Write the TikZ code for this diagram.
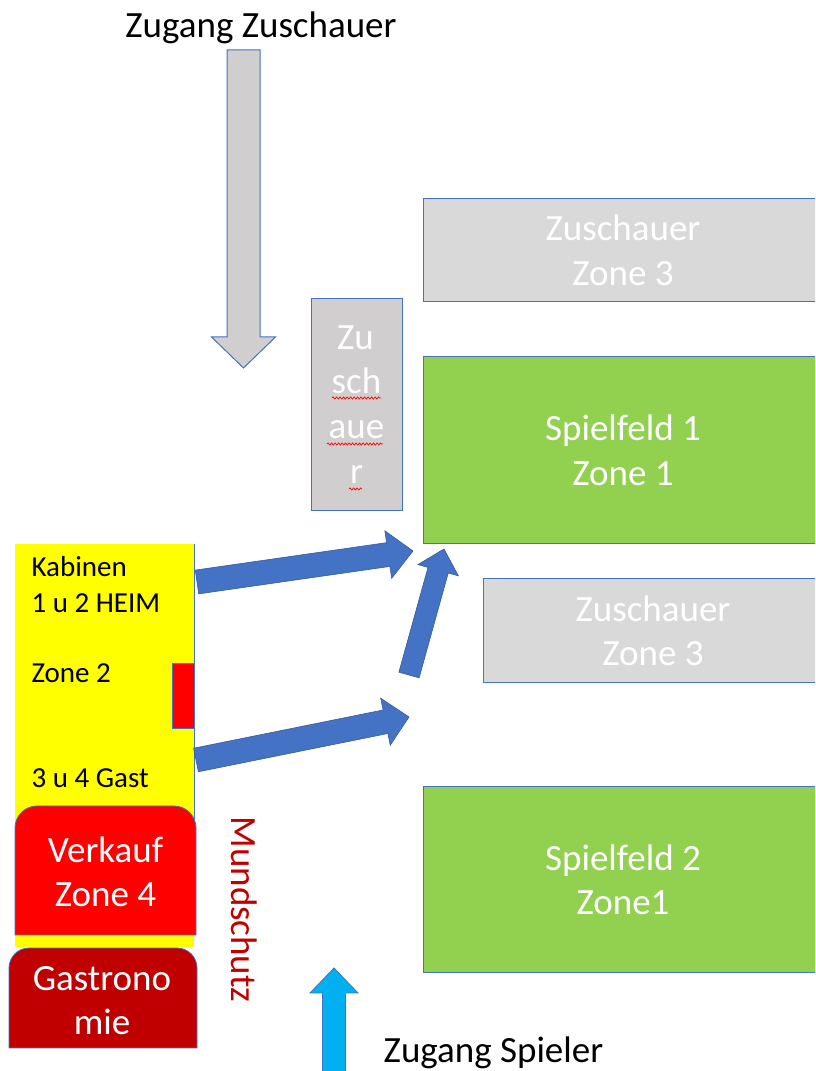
\documentclass[tikz,border=0pt]{standalone}
\usepackage{fontspec}
\setmainfont{Carlito}
\usetikzlibrary{calc,decorations.pathmorphing}
\definecolor{bord}{HTML}{4472C4}
\definecolor{grayA}{HTML}{D9D9D9}
\definecolor{grayB}{HTML}{D0CECE}
\definecolor{grn}{HTML}{92D050}
\definecolor{darkred}{HTML}{C00000}
\definecolor{arrblue}{HTML}{4472C4}
\definecolor{cyanarr}{HTML}{00B0F0}
\definecolor{yel}{HTML}{FFFF00}
\definecolor{rd}{HTML}{FF0000}
\newcommand\blockarrow[6]{%
  \coordinate (h-#2) at ($(#3)!#6pt!(#2)$);
  \path[#1] ($(#2)!#4pt!-90:(#3)$) -- ($(h-#2)!#4pt!-90:(#3)$) -- ($(h-#2)!#5pt!-90:(#3)$) -- (#3)
    -- ($(h-#2)!#5pt!90:(#3)$) -- ($(h-#2)!#4pt!90:(#3)$) -- ($(#2)!#4pt!90:(#3)$) -- cycle;}
\tikzset{
  big/.style={font=\fontsize{37}{44.5}\selectfont},
  small/.style={font=\fontsize{29}{35}\selectfont},
  zone/.style={draw=bord, line width=1pt, rectangle, inner sep=0pt, align=center, big, text=white},
  barr/.style={fill=arrblue, draw=bord!80!black, line width=0.6pt},
  garr/.style={fill=grayB, draw=bord, line width=1pt},
  carr/.style={fill=cyanarr, draw=bord, line width=0.8pt},
  wavy/.style={draw=rd, line width=0.7pt, decorate, decoration={snake, amplitude=1.1pt, segment length=3.5pt}}
}
\begin{document}
\begin{tikzpicture}[x=1pt,y=1pt]
\useasboundingbox (0,0) rectangle (815,1071);
\clip (0,0) rectangle (815,1071);
\fill[white] (0,0) rectangle (815,1071);

% field boxes
\node[zone, fill=grayA, minimum width=400, minimum height=103] (zusch1) at (623,820.5) {Zuschauer\\Zone 3};
\node[zone, fill=grn, minimum width=400, minimum height=187] (feld1) at (623,620.5) {Spielfeld 1\\Zone 1};
\node[zone, fill=grayA, minimum width=340, minimum height=104] (zusch2) at (653,440) {Zuschauer\\Zone 3};
\node[zone, fill=grn, minimum width=400, minimum height=186] (feld2) at (623,191) {Spielfeld 2\\Zone1};

% vertical Zuschauer box
\node[zone, fill=grayB, minimum width=91, minimum height=212] (zuschv) at (356.5,666) {};
\node[big, text=white, anchor=base] (zv1) at (355.5,721) {Zu};
\node[big, text=white, anchor=base] (zv2) at (356.5,677) {sch};
\node[big, text=white, anchor=base] (zv3) at (356.5,632) {aue};
\node[big, text=white, anchor=base] (zv4) at (356.5,587) {r};
\draw[wavy] (332,673) -- (381,673);
\draw[wavy] (327,627) -- (383,627);
\draw[wavy] (349,582) -- (362,582);

% yellow cabin block
\fill[yel] (15,124) rectangle (194,527);
\draw[bord, line width=0.8pt] (194,527) -- (194,136);
\node[draw=bord, line width=0.8pt, fill=rd, minimum width=22, minimum height=65, inner sep=0pt] (door) at (183,375.5) {};
\node[small, anchor=base west] (kab1) at (28,494) {Kabinen};
\node[small, anchor=base west] (kab2) at (28,458) {1 u 2 HEIM};
\node[small, anchor=base west] (kab3) at (28,388) {Zone 2};
\node[small, anchor=base west] (kab4) at (28,283) {3 u 4 Gast};

% Verkauf
\draw[bord, line width=0.8pt, fill=rd] (15,136) -- (15,243) arc[start angle=180, end angle=90, radius=22] -- (174,265) arc[start angle=90, end angle=0, radius=22] -- (196,136) -- cycle;
\node[big, text=white, align=center] (verk) at (105.5,199) {Verkauf\\Zone 4};

% Gastronomie
\draw[bord, line width=0.8pt, fill=darkred] (9,23) -- (9,103) arc[start angle=180, end angle=90, radius=20] -- (177,123) arc[start angle=90, end angle=0, radius=20] -- (197,23) -- cycle;
\node[big, text=white, align=center] (gastro) at (102,70.5) {Gastrono\\mie};

% Mundschutz
\node[big, text=darkred, rotate=-90] (mund) at (244,161.5) {Mundschutz};

% captions
\node[big, anchor=base] (zugz) at (261,1033) {Zugang Zuschauer};
\node[big, anchor=base] (zugs) at (493.5,8.5) {Zugang Spieler};

% arrows
\coordinate (ga) at (243.5,1021);
\coordinate (gb) at (243.5,703);
\blockarrow{garr}{ga}{gb}{16.5}{32}{31}

\coordinate (b1a) at (197,489);
\coordinate (b1b) at (413,520);
\blockarrow{barr}{b1a}{b1b}{12}{24}{25}

\coordinate (b2a) at (196,311);
\coordinate (b2b) at (409,354);
\blockarrow{barr}{b2a}{b2b}{12}{24}{24}

\coordinate (b3a) at (409,396);
\coordinate (b3b) at (444,522);
\blockarrow{barr}{b3a}{b3b}{10.5}{21}{22}

\coordinate (ca) at (334,-5);
\coordinate (cb) at (334,103);
\blockarrow{carr}{ca}{cb}{11.5}{24}{25}
\end{tikzpicture}
\end{document}
